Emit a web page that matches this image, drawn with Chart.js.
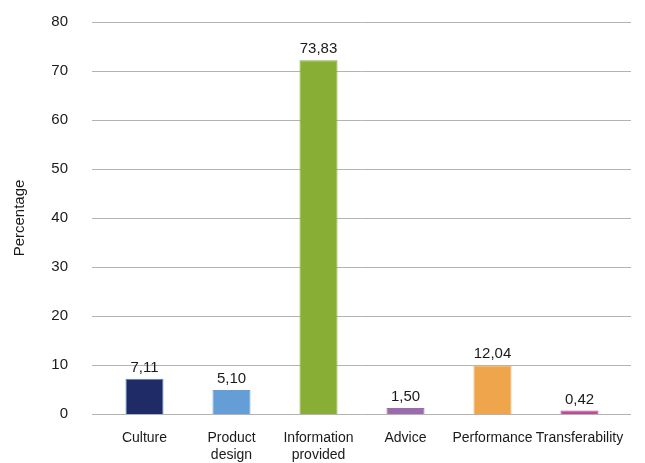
<!DOCTYPE html>
<html>
<head>
<meta charset="utf-8">
<script src="https://cdn.jsdelivr.net/npm/chart.js@4.4.1/dist/chart.umd.min.js"></script>
<style>
  html, body { margin: 0; padding: 0; background: #fff; }
  #wrap { width: 645px; height: 463px; }
</style>
</head>
<body>
<div id="wrap"><canvas id="barChart" width="645" height="463"></canvas></div>
<script>
// categories and values
var categories = ["Culture", ["Product", "design"], ["Information", "provided"], "Advice", "Performance", "Transferability"];
var barHeights = [7.2, 4.9, 72.2, 1.2, 9.9, 0.7];   // drawn bar heights
var valueLabels = ["7,11", "5,10", "73,83", "1,50", "12,04", "0,42"]; // printed labels
var barColors = ["#1f2b66", "#659ed6", "#89ae36", "#9b6bab", "#eea54b", "#b84f94"];
var barBorders = ["#4f86c6", "#659ed6", "#89ae36", "#9b6bab", "#eea54b", "#b84f94"];
var yTicks = [0, 10, 20, 30, 40, 50, 60, 70, 80];

var fontFam = "'Liberation Sans', Arial, sans-serif";
var txtColor = "#1a1a1a";

// horizontal gridlines run a little past the plot area, like the original
var gridPlugin = {
    id: 'wideGrid',
    beforeDatasetsDraw: function (chart) {
        var c = chart.ctx, ys = chart.scales.y, area = chart.chartArea;
        c.save();
        c.strokeStyle = "#b3b3b3";
        c.lineWidth = 1;
        yTicks.forEach(function (v) {
            var y = Math.round(ys.getPixelForValue(v)) + 0.5;
            c.beginPath();
            c.moveTo(area.left - 9, y);
            c.lineTo(area.right + 8, y);
            c.stroke();
        });
        c.restore();
    }
};

var valueLabelPlugin = {
    id: 'valueLabels',
    afterDatasetsDraw: function (chart) {
        var c = chart.ctx;
        var meta = chart.getDatasetMeta(0);
        c.save();
        c.font = "15px " + fontFam;
        c.fillStyle = txtColor;
        c.textAlign = "center";
        c.textBaseline = "alphabetic";
        meta.data.forEach(function (bar, i) {
            c.fillText(valueLabels[i], bar.x, bar.y - 7);
        });
        c.restore();
    }
};

var ctx = document.getElementById("barChart").getContext("2d");
new Chart(ctx, {
    type: 'bar',
    data: {
        labels: categories,
        datasets: [{
            data: barHeights,
            backgroundColor: barColors,
            borderColor: barBorders,
            borderWidth: 1,
            categoryPercentage: 1,
            barPercentage: 0.437
        }]
    },
    options: {
        responsive: false,
        animation: false,
        layout: { padding: { top: 22, right: 22, left: 0, bottom: 0 } },
        plugins: {
            legend: { display: false },
            tooltip: { enabled: false }
        },
        scales: {
            x: {
                grid: { display: false, drawTicks: false },
                border: { display: false },
                ticks: {
                    color: txtColor,
                    font: { family: fontFam, size: 14, lineHeight: 1.25 },
                    padding: 15,
                    maxRotation: 0,
                    autoSkip: false
                },
                afterFit: function (scale) { scale.height = 49; }
            },
            y: {
                min: 0,
                max: 80,
                afterBuildTicks: function (scale) {
                    scale.ticks = yTicks.map(function (v) { return { value: v }; });
                },
                grid: { display: false, drawTicks: false },
                border: { display: false },
                ticks: {
                    color: txtColor,
                    font: { family: fontFam, size: 15 },
                    padding: 33
                },
                title: {
                    display: true,
                    text: "Percentage",
                    color: txtColor,
                    font: { family: fontFam, size: 15 },
                    padding: { top: 11, bottom: 0 }
                },
                afterFit: function (scale) {
                    scale.width = 101;
                    scale.paddingTop = 0;
                    scale.paddingBottom = 0;
                }
            }
        }
    },
    plugins: [gridPlugin, valueLabelPlugin]
});
</script>
</body>
</html>
